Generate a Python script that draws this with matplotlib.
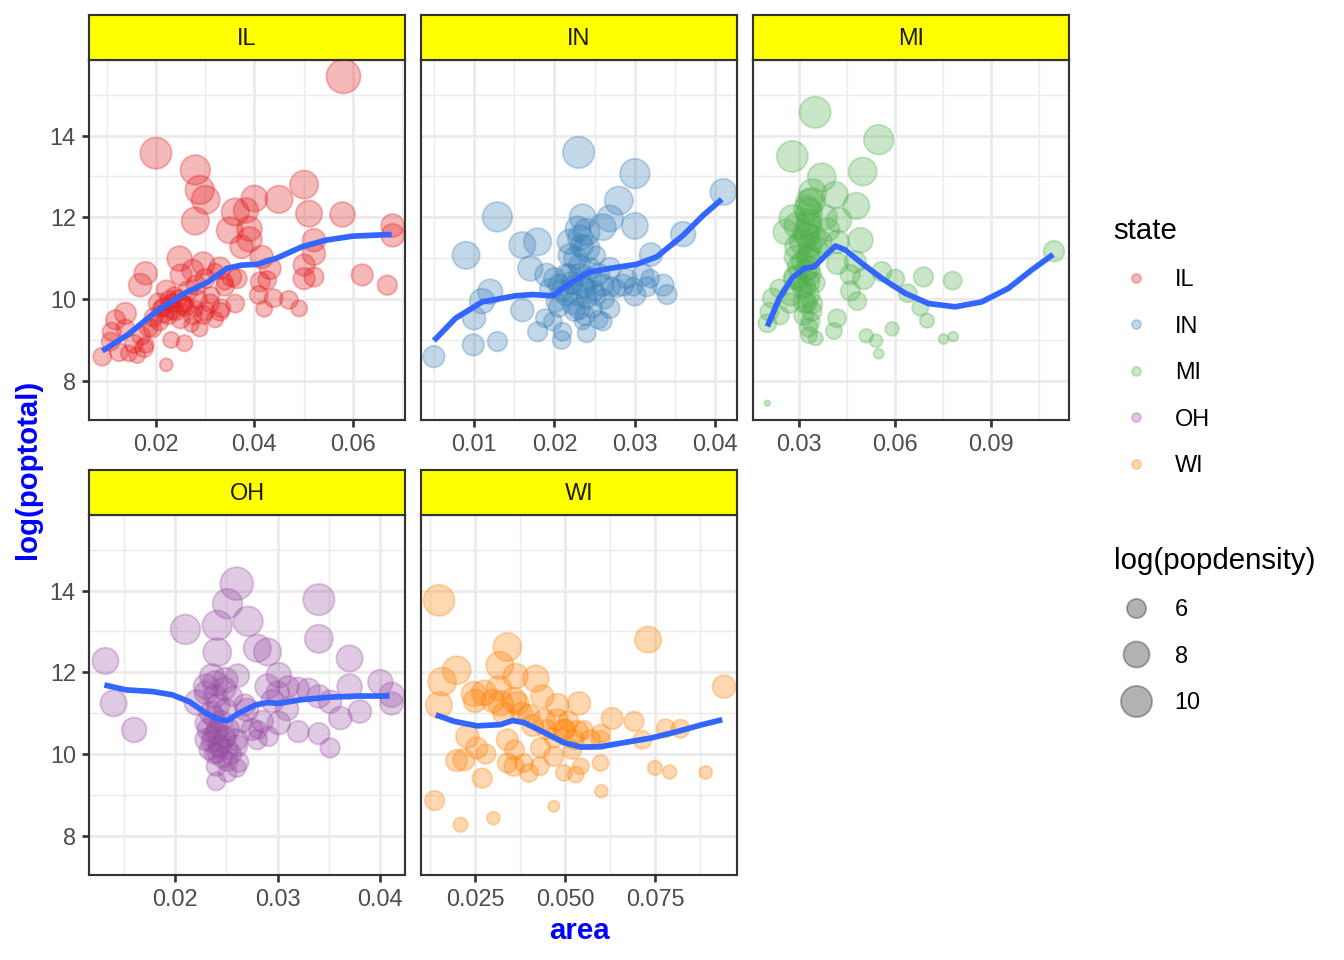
import numpy as np
import matplotlib
matplotlib.use("Agg")
import matplotlib.pyplot as plt
from matplotlib.lines import Line2D

plt.rcParams['font.family'] = ['Liberation Sans', 'DejaVu Sans']

states = ["IL", "IN", "MI", "OH", "WI"]
state_colors = ["#E41A1C", "#377EB8", "#4DAF4A", "#984EA3", "#FF7F00"]

# values: area, log(poptotal), log(popdensity)
il_area = [0.0581, 0.0200, 0.0280, 0.0289, 0.0301, 0.0280, 0.0400, 0.0450, 0.0501, 0.0511,
           0.0579, 0.0681, 0.0681, 0.0361, 0.0383, 0.0350, 0.0390, 0.0390, 0.0374, 0.0415,
           0.0432, 0.0521, 0.0521, 0.0501, 0.0501, 0.0521, 0.0619, 0.0670, 0.0248, 0.0179,
           0.0168, 0.0251, 0.0296, 0.0330, 0.0354, 0.0282, 0.0221, 0.0412, 0.0426, 0.0409,
           0.0439, 0.0470, 0.0491, 0.0420, 0.0361, 0.0333, 0.0330, 0.0296, 0.0289, 0.0255,
           0.0234, 0.0217, 0.0207, 0.0227, 0.0238, 0.0193, 0.0176, 0.0162, 0.0145, 0.0138,
           0.0118, 0.0138, 0.0108, 0.0091, 0.0231, 0.0258, 0.0221, 0.0179, 0.0258, 0.0279,
           0.0320, 0.0340, 0.0313, 0.0210, 0.0272,
           0.0215, 0.0225, 0.0232, 0.0240, 0.0245, 0.0250, 0.0260, 0.0265, 0.0275, 0.0285,
           0.0300, 0.0310, 0.0320, 0.0205, 0.0195, 0.0185, 0.0170, 0.0155, 0.0125, 0.0110,
           0.0340, 0.0365, 0.0300, 0.0275]
il_logpop = [15.45, 13.57, 13.16, 12.67, 12.43, 11.91, 12.46, 12.44, 12.80, 12.09,
             12.07, 11.80, 11.56, 12.13, 12.17, 11.68, 11.72, 11.46, 11.28, 11.03,
             10.75, 11.44, 11.11, 10.83, 10.50, 10.54, 10.59, 10.34, 10.99, 10.63,
             10.34, 10.59, 10.87, 10.76, 10.54, 10.34, 10.22, 10.42, 10.46, 10.10,
             10.02, 9.98, 9.77, 9.76, 9.89, 9.77, 9.69, 9.61, 9.28, 9.85,
             9.73, 9.65, 9.45, 9.98, 10.10, 9.28, 8.80, 8.63, 8.67, 9.65,
             9.49, 9.28, 8.96, 8.59, 9.00, 8.92, 8.39, 8.88, 9.89, 9.77,
             10.67, 10.42, 10.10, 9.77, 9.37,
             9.80, 9.60, 9.90, 9.70, 10.00, 9.50, 9.80, 10.20, 9.60, 10.00,
             9.70, 9.90, 9.50, 9.90, 9.55, 9.30, 9.10, 8.90, 8.70, 9.20,
             10.30, 10.50, 10.50, 10.70]
il_logdens = [11.39, 10.1, 9.4, 9.0, 8.8, 8.5, 8.1, 8.5, 8.8, 8.1,
              7.6, 7.0, 7.0, 8.5, 7.6, 8.1, 7.6, 7.6, 7.0, 7.0,
              6.6, 7.0, 7.0, 6.6, 6.6, 6.1, 6.6, 6.1, 7.6, 7.0,
              7.0, 6.6, 7.0, 6.6, 6.1, 6.1, 6.1, 6.1, 5.8, 5.8,
              5.8, 5.8, 5.4, 5.4, 5.8, 5.8, 5.8, 5.8, 5.4, 5.8,
              5.8, 5.8, 5.8, 5.8, 5.4, 5.8, 5.8, 5.4, 5.4, 6.6,
              6.1, 5.8, 5.8, 5.8, 5.4, 5.4, 4.9, 5.4, 5.4, 5.4,
              5.4, 5.4, 5.4, 5.4, 5.1,
              5.8, 5.8, 5.8, 5.8, 5.8, 5.8, 5.8, 6.1, 5.8, 5.8,
              5.8, 5.8, 5.4, 6.1, 5.8, 5.8, 5.8, 5.8, 5.8, 5.8,
              5.8, 6.1, 6.1, 6.6]

in_area = [0.0230, 0.0300, 0.0280, 0.0410, 0.0129, 0.0269, 0.0260, 0.0300, 0.0240, 0.0229,
           0.0240, 0.0219, 0.0219, 0.0179, 0.0160, 0.0090, 0.0170, 0.0190, 0.0360, 0.0320,
           0.0335, 0.0340, 0.0310, 0.0300, 0.0285, 0.0269, 0.0260, 0.0252, 0.0244, 0.0231,
           0.0219, 0.0206, 0.0215, 0.0223, 0.0231, 0.0240, 0.0202, 0.0194, 0.0269, 0.0260,
           0.0240, 0.0210, 0.0209, 0.0198, 0.0188, 0.0179, 0.0160, 0.0120, 0.0110, 0.0100,
           0.0099, 0.0129, 0.0050, 0.0298, 0.0319, 0.0277, 0.0248, 0.0223, 0.0235, 0.0252,
           0.0200, 0.0210, 0.0215, 0.0222, 0.0228, 0.0232, 0.0236, 0.0240, 0.0245, 0.0250,
           0.0255, 0.0262, 0.0270, 0.0225, 0.0238, 0.0226, 0.0234, 0.0235, 0.0232, 0.0290,
           0.0315, 0.0205, 0.0255]
in_logpop = [13.59, 13.07, 12.41, 12.62, 12.01, 11.97, 11.76, 11.79, 11.64, 11.72,
             11.24, 11.40, 11.07, 11.40, 11.32, 11.07, 10.75, 10.59, 11.59, 11.09,
             10.34, 10.11, 10.59, 10.10, 10.34, 10.75, 10.34, 10.10, 10.75, 10.83,
             10.59, 10.34, 10.10, 9.89, 9.77, 10.26, 9.93, 10.26, 9.77, 9.45,
             9.16, 9.20, 9.00, 9.45, 9.53, 9.20, 9.73, 10.18, 9.95, 9.53,
             8.88, 8.96, 8.59, 10.30, 10.50, 10.26, 9.77, 10.34, 9.45, 11.07,
             10.50, 10.20, 10.60, 10.40, 10.10, 10.60, 10.30, 10.00, 10.50, 10.20,
             10.60, 10.00, 10.30, 9.70, 9.60, 11.00, 11.30, 12.00, 11.50, 10.50,
             10.30, 9.80, 9.50]
in_logdens = [10.2, 9.4, 8.8, 8.1, 9.4, 8.1, 8.1, 8.1, 8.1, 7.6,
              8.1, 7.6, 7.0, 8.5, 8.1, 8.5, 7.6, 7.0, 7.6, 7.0,
              6.6, 6.1, 6.6, 6.6, 6.6, 6.6, 6.6, 6.1, 6.6, 6.6,
              6.6, 6.6, 6.6, 6.6, 6.6, 6.1, 6.1, 6.1, 6.1, 5.8,
              5.8, 5.8, 5.8, 5.8, 5.8, 6.1, 7.0, 7.6, 7.6, 7.0,
              6.6, 6.1, 6.6, 5.8, 5.8, 5.8, 5.8, 5.8, 5.4, 5.8,
              6.6, 6.6, 6.6, 6.6, 6.6, 6.6, 6.6, 6.1, 6.6, 6.1,
              6.6, 6.1, 6.1, 6.1, 6.1, 7.0, 7.0, 8.1, 7.6, 6.1,
              6.1, 6.1, 5.8]

mi_area = [0.0350, 0.0549, 0.0279, 0.0499, 0.0371, 0.0342, 0.0412, 0.0479, 0.0331, 0.0331,
           0.0279, 0.0425, 0.0258, 0.0331, 0.0492, 0.0420, 0.0367, 0.0295, 0.0290, 0.0331,
           0.0420, 0.0476, 0.0290, 0.0331, 0.0331, 0.0274, 0.0316, 0.0342, 0.0217, 0.0207,
           0.0201, 0.0336, 0.0331, 0.0352, 0.0419, 0.0409, 0.0502, 0.0559, 0.0601, 0.0461,
           0.0482, 0.0640, 0.0689, 0.0780, 0.0679, 0.0700, 0.0591, 0.0510, 0.0541, 0.0549,
           0.0752, 0.0782, 0.1097, 0.0201, 0.0310, 0.0352, 0.0310, 0.0326, 0.0300, 0.0238,
           0.0325, 0.0330, 0.0320, 0.0335, 0.0328, 0.0322, 0.0335, 0.0318, 0.0330, 0.0325,
           0.0340, 0.0315, 0.0330, 0.0345, 0.0310, 0.0300, 0.0295, 0.0340, 0.0380, 0.0390,
           0.0270, 0.0285, 0.0350, 0.0460, 0.0240]
mi_logpop = [14.57, 13.90, 13.49, 13.12, 12.98, 12.60, 12.55, 12.28, 12.37, 12.13,
             11.98, 11.93, 11.64, 11.80, 11.44, 11.40, 11.40, 11.28, 11.03, 11.07,
             10.87, 10.91, 10.54, 10.75, 10.42, 10.10, 9.93, 9.89, 10.02, 9.69,
             9.41, 9.45, 9.12, 9.04, 9.53, 9.22, 10.50, 10.67, 10.50, 10.20,
             9.95, 10.14, 10.54, 10.45, 9.79, 9.47, 9.27, 9.10, 8.98, 8.66,
             9.02, 9.08, 11.17, 7.45, 10.91, 11.24, 10.26, 11.56, 10.42, 10.26,
             12.20, 11.90, 11.60, 11.30, 11.00, 10.70, 10.60, 10.30, 10.10, 9.90,
             9.70, 9.60, 9.30, 11.50, 11.40, 10.80, 11.80, 12.40, 12.00, 11.70,
             9.90, 10.50, 10.40, 10.60, 9.60]
mi_logdens = [10.1, 9.4, 10.0, 8.8, 8.8, 8.5, 8.1, 8.1, 8.1, 8.1,
              8.1, 7.6, 7.6, 7.6, 7.6, 7.0, 7.0, 7.6, 7.0, 7.0,
              6.6, 6.6, 7.0, 6.6, 6.6, 6.6, 6.6, 6.1, 6.1, 5.8,
              5.8, 5.8, 5.4, 5.1, 5.8, 5.4, 6.6, 6.1, 5.8, 6.1,
              5.8, 5.8, 6.1, 5.8, 5.4, 5.1, 5.0, 5.0, 4.9, 4.6,
              4.6, 4.6, 6.4, 4.44, 6.6, 6.6, 6.1, 7.6, 5.8, 5.8,
              8.1, 7.6, 7.6, 7.0, 7.0, 6.6, 6.6, 6.6, 6.6, 6.1,
              6.1, 6.1, 5.8, 7.6, 7.6, 7.0, 8.1, 8.1, 7.6, 7.0,
              6.1, 6.6, 6.1, 6.1, 5.8]

oh_area = [0.0260, 0.0251, 0.0340, 0.0241, 0.0271, 0.0210, 0.0340, 0.0132, 0.0241, 0.0280,
           0.0290, 0.0370, 0.0400, 0.0411, 0.0411, 0.0370, 0.0380, 0.0361, 0.0351, 0.0340,
           0.0330, 0.0340, 0.0351, 0.0320, 0.0309, 0.0301, 0.0301, 0.0290, 0.0261, 0.0249,
           0.0239, 0.0230, 0.0221, 0.0239, 0.0249, 0.0270, 0.0230, 0.0230, 0.0241, 0.0249,
           0.0243, 0.0252, 0.0241, 0.0260, 0.0265, 0.0280, 0.0291, 0.0281, 0.0251, 0.0260,
           0.0251, 0.0240, 0.0140, 0.0160, 0.0320, 0.0310, 0.0256, 0.0236,
           0.0232, 0.0236, 0.0240, 0.0244, 0.0248, 0.0233, 0.0238, 0.0246, 0.0252, 0.0245,
           0.0235, 0.0242, 0.0230, 0.0248, 0.0236, 0.0255, 0.0260, 0.0275, 0.0285, 0.0295,
           0.0300, 0.0268, 0.0262, 0.0240, 0.0238]
oh_logpop = [14.17, 13.68, 13.78, 13.15, 13.25, 13.05, 12.82, 12.28, 12.49, 12.59,
             12.50, 12.34, 11.76, 11.45, 11.24, 11.65, 11.04, 10.88, 11.28, 11.41,
             11.57, 10.50, 10.15, 10.55, 11.10, 10.76, 11.93, 11.65, 11.92, 11.81,
             11.73, 11.65, 11.26, 11.41, 11.08, 11.08, 10.76, 10.35, 10.59, 10.43,
             10.19, 10.11, 10.02, 10.35, 10.76, 10.35, 10.43, 10.59, 9.82, 9.66,
             9.54, 9.33, 11.24, 10.59, 11.61, 11.65, 11.41, 10.43,
             10.60, 10.30, 10.50, 10.20, 10.40, 10.10, 10.00, 9.90, 10.60, 10.80,
             11.00, 11.20, 11.50, 11.60, 11.90, 10.00, 10.20, 10.60, 10.80, 11.30,
             11.50, 11.20, 9.80, 9.70, 10.90]
oh_logdens = [10.8, 9.4, 10.1, 9.4, 9.4, 9.4, 8.8, 8.1, 8.8, 8.5,
              8.5, 8.1, 7.6, 7.6, 7.0, 7.6, 7.0, 7.0, 7.0, 7.0,
              7.0, 6.6, 6.1, 6.6, 7.0, 7.0, 7.6, 7.6, 7.0, 7.6,
              7.6, 7.6, 7.6, 7.0, 7.0, 7.0, 6.6, 6.6, 6.6, 6.6,
              6.6, 6.1, 6.1, 6.6, 6.1, 6.1, 6.1, 5.8, 6.1, 5.8,
              5.8, 5.8, 8.1, 7.6, 6.6, 6.6, 6.1, 6.1,
              6.6, 6.6, 6.6, 6.6, 6.6, 6.1, 6.1, 6.1, 6.6, 6.6,
              7.0, 7.0, 7.0, 7.0, 7.6, 6.1, 6.6, 6.6, 6.6, 7.0,
              7.0, 6.6, 6.1, 6.1, 6.6]

wi_area = [0.0150, 0.0731, 0.0340, 0.0199, 0.0159, 0.0319, 0.0150, 0.0942, 0.0363, 0.0419,
           0.0247, 0.0275, 0.0317, 0.0321, 0.0358, 0.0437, 0.0479, 0.0539, 0.0442, 0.0479,
           0.0497, 0.0534, 0.0525, 0.0571, 0.0599, 0.0631, 0.0692, 0.0715, 0.0780, 0.0821,
           0.0229, 0.0255, 0.0340, 0.0340, 0.0358, 0.0400, 0.0432, 0.0469, 0.0497, 0.0530,
           0.0544, 0.0599, 0.0601, 0.0469, 0.0199, 0.0219, 0.0270, 0.0138, 0.0210, 0.0301,
           0.0750, 0.0791, 0.0891, 0.0368, 0.0400, 0.0386, 0.0553,
           0.0380, 0.0410, 0.0450, 0.0470, 0.0500, 0.0510, 0.0300, 0.0330, 0.0280, 0.0360,
           0.0430, 0.0520, 0.0600, 0.0250]
wi_logpop = [13.76, 12.80, 12.62, 12.05, 11.77, 12.17, 11.20, 11.65, 11.91, 11.85,
             11.47, 11.50, 11.61, 11.24, 11.32, 11.41, 11.20, 11.24, 10.84, 10.84,
             10.59, 10.55, 10.35, 10.35, 10.35, 10.87, 10.80, 10.35, 10.63, 10.62,
             10.43, 10.15, 10.35, 9.78, 9.70, 9.54, 10.15, 9.94, 9.54, 9.50,
             9.70, 9.78, 9.09, 8.72, 9.84, 9.86, 9.41, 8.86, 8.27, 8.43,
             9.66, 9.56, 9.55, 11.24, 10.95, 9.78, 10.59,
             11.00, 10.70, 10.60, 10.40, 10.60, 10.80, 11.30, 11.00, 10.00, 10.10,
             9.70, 10.10, 10.50, 11.30]
wi_logdens = [10.0, 8.1, 8.8, 8.8, 8.8, 8.5, 8.1, 7.0, 7.6, 8.1,
              7.6, 7.6, 7.6, 7.6, 7.6, 7.0, 7.0, 7.0, 6.6, 6.6,
              6.6, 6.6, 6.1, 6.1, 5.8, 6.6, 6.1, 5.8, 5.8, 5.8,
              7.0, 6.6, 6.6, 6.1, 6.1, 5.8, 6.1, 6.1, 5.4, 5.4,
              5.4, 5.4, 4.9, 4.7, 6.6, 6.6, 6.1, 6.1, 5.1, 4.9,
              5.1, 5.0, 4.9, 7.0, 6.6, 5.8, 5.8,
              6.6, 6.6, 6.1, 6.1, 6.1, 6.1, 7.0, 6.6, 6.1, 6.1,
              5.8, 5.8, 5.8, 7.0]

# loess curves
il_smooth_x = [0.0091, 0.0142, 0.0200, 0.0258, 0.0306, 0.0344, 0.0374, 0.0405, 0.0443, 0.0497, 0.0545, 0.0600, 0.0679]
il_smooth_y = [8.73, 9.12, 9.69, 10.14, 10.42, 10.75, 10.83, 10.85, 10.99, 11.28, 11.44, 11.54, 11.58]
in_smooth_x = [0.0050, 0.0077, 0.0110, 0.0152, 0.0173, 0.0198, 0.0219, 0.0242, 0.0269, 0.0302, 0.0327, 0.0360, 0.0385, 0.0408]
in_smooth_y = [8.98, 9.53, 9.93, 10.08, 10.11, 10.08, 10.38, 10.65, 10.75, 10.85, 11.03, 11.56, 12.05, 12.44]
mi_smooth_x = [0.0201, 0.0238, 0.0279, 0.0316, 0.0347, 0.0383, 0.0414, 0.0445, 0.0497, 0.0560, 0.0632, 0.0705, 0.0788, 0.0871, 0.0954, 0.1027, 0.1094]
mi_smooth_y = [9.33, 10.02, 10.52, 10.75, 10.79, 11.07, 11.30, 11.20, 10.87, 10.50, 10.14, 9.89, 9.81, 9.93, 10.26, 10.71, 11.09]
oh_smooth_x = [0.0131, 0.0152, 0.0178, 0.0197, 0.0214, 0.0230, 0.0243, 0.0251, 0.0262, 0.0278, 0.0290, 0.0301, 0.0323, 0.0349, 0.0378, 0.0409]
oh_smooth_y = [11.69, 11.57, 11.53, 11.45, 11.28, 11.00, 10.84, 10.82, 11.00, 11.20, 11.26, 11.24, 11.33, 11.39, 11.42, 11.42]
wi_smooth_x = [0.0141, 0.0192, 0.0256, 0.0321, 0.0354, 0.0386, 0.0442, 0.0497, 0.0544, 0.0599, 0.0664, 0.0738, 0.0812, 0.0877, 0.0937]
wi_smooth_y = [10.96, 10.80, 10.69, 10.72, 10.82, 10.77, 10.53, 10.28, 10.17, 10.18, 10.28, 10.39, 10.55, 10.71, 10.84]

x_major = {
    "IL": [0.02, 0.04, 0.06],
    "IN": [0.01, 0.02, 0.03, 0.04],
    "MI": [0.03, 0.06, 0.09],
    "OH": [0.02, 0.03, 0.04],
    "WI": [0.025, 0.050, 0.075],
}
x_labels = {
    "IL": ["0.02", "0.04", "0.06"],
    "IN": ["0.01", "0.02", "0.03", "0.04"],
    "MI": ["0.03", "0.06", "0.09"],
    "OH": ["0.02", "0.03", "0.04"],
    "WI": ["0.025", "0.050", "0.075"],
}
x_minor = {
    "IL": [0.01, 0.03, 0.05, 0.07],
    "IN": [0.005, 0.015, 0.025, 0.035],
    "MI": [0.045, 0.075, 0.105],
    "OH": [0.015, 0.025, 0.035],
    "WI": [0.0125, 0.0375, 0.0625, 0.0875],
}
x_limits = {
    "IL": (0.0064, 0.0706),
    "IN": (0.0034, 0.0427),
    "MI": (0.0156, 0.1144),
    "OH": (0.0116, 0.0424),
    "WI": (0.0100, 0.0978),
}
y_major = [8, 10, 12, 14]
y_minor = [9, 11, 13, 15]
y_limits = (7.04, 15.85)

data = {
    "IL": (il_area, il_logpop, il_logdens, il_smooth_x, il_smooth_y),
    "IN": (in_area, in_logpop, in_logdens, in_smooth_x, in_smooth_y),
    "MI": (mi_area, mi_logpop, mi_logdens, mi_smooth_x, mi_smooth_y),
    "OH": (oh_area, oh_logpop, oh_logdens, oh_smooth_x, oh_smooth_y),
    "WI": (wi_area, wi_logpop, wi_logdens, wi_smooth_x, wi_smooth_y),
}

all_dens = np.concatenate([np.array(data[s][2]) for s in states])
dens_lo, dens_hi = all_dens.min(), all_dens.max()


def marker_diam(ld):
    # ggplot2 scale_size: area palette onto range 1..6
    ld = np.asarray(ld, dtype=float)
    size = 1 + 5 * np.sqrt((ld - dens_lo) / (dens_hi - dens_lo))
    return 0.75 * 2.845 * size


W, H = 1344, 960
fig = plt.figure(figsize=(7, 5), dpi=192)

panel_pos = {"IL": (89, 60), "IN": (421, 60), "MI": (753, 60), "OH": (89, 515), "WI": (421, 515)}
pw, ph, sh = 316, 360, 45
grid_col = "#EBEBEB"

for state, col in zip(states, state_colors):
    area, logpop, logdens, sx, sy = data[state]
    x0, y0 = panel_pos[state]
    ax = fig.add_axes([x0 / W, 1 - (y0 + ph) / H, pw / W, ph / H])
    ax.set_axisbelow(True)
    d = marker_diam(logdens)
    ax.scatter(area, logpop, s=d ** 2, color=col, alpha=0.3, linewidths=0.7, zorder=2)
    ax.plot(sx, sy, color="#3366FF", lw=2.13, zorder=3, solid_capstyle="butt")

    ax.set_xlim(x_limits[state])
    ax.set_ylim(y_limits)
    ax.set_xticks(x_major[state])
    ax.set_xticklabels(x_labels[state])
    ax.set_xticks(x_minor[state], minor=True)
    ax.set_yticks(y_major)
    ax.set_yticks(y_minor, minor=True)
    ax.grid(which="major", color=grid_col, lw=1.07)
    ax.grid(which="minor", color=grid_col, lw=0.53)
    ax.tick_params(which="minor", length=0)
    ax.tick_params(which="major", length=2.75, width=1.0, pad=2.2, color="#333333",
                   labelsize=8.8, labelcolor="#4D4D4D")
    if state not in ("IL", "OH"):
        ax.tick_params(axis="y", which="both", left=False, labelleft=False)
    else:
        ax.set_yticklabels([str(v) for v in y_major])
    for sp in ax.spines.values():
        sp.set_color("#333333")
        sp.set_linewidth(0.8)

    sax = fig.add_axes([x0 / W, 1 - y0 / H, pw / W, sh / H])
    sax.set_facecolor("#FFFF00")
    sax.set_xticks([])
    sax.set_yticks([])
    for sp in sax.spines.values():
        sp.set_color("#333333")
        sp.set_linewidth(0.8)
    sax.text(0.5, 0.47, state, ha="center", va="center", fontsize=8.8, color="#1A1A1A",
             transform=sax.transAxes)

fig.text(579 / W, 1 - 931 / H, "area", ha="center", va="center", fontsize=11,
         fontweight="bold", color="blue")
fig.text(28 / W, 1 - 469 / H, "log(poptotal)", ha="center", va="center", fontsize=11,
         fontweight="bold", color="blue", rotation=90)

# legends
state_handles = [Line2D([], [], ls="", marker="o", markersize=0.75 * 2.845 * 1.6,
                        color=c, alpha=0.3, markeredgewidth=0.7) for c in state_colors]
leg1 = fig.legend(state_handles, states, loc="upper left",
                  bbox_to_anchor=(1102 / W, 1 - 205 / H), frameon=False, title="state",
                  title_fontsize=11, fontsize=8.8, labelspacing=1.0, borderpad=0,
                  handlelength=1.9, handletextpad=0.7, alignment="left")

size_breaks = [6, 8, 10]
size_handles = [Line2D([], [], ls="", marker="o", markersize=float(marker_diam(b)),
                       color="black", alpha=0.3, markeredgewidth=0.7) for b in size_breaks]
leg2 = fig.legend(size_handles, [str(b) for b in size_breaks], loc="upper left",
                  bbox_to_anchor=(1102 / W, 1 - 535 / H), frameon=False,
                  title="log(popdensity)", title_fontsize=11, fontsize=8.8,
                  labelspacing=1.0, borderpad=0, handlelength=1.9, handletextpad=0.7,
                  alignment="left")

fig.savefig("out.png", dpi=192)
